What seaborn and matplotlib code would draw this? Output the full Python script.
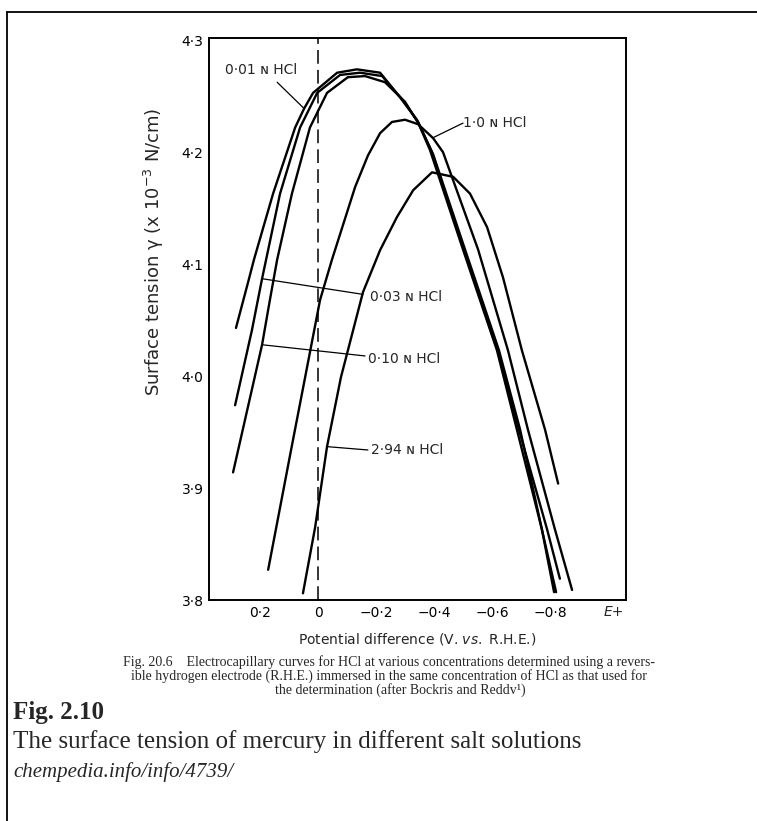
import numpy as np
import pandas as pd
import matplotlib
matplotlib.use("Agg")
import matplotlib.pyplot as plt
import seaborn as sns
from matplotlib.lines import Line2D

# ---------------- data ----------------
series_names = ["0·01 N HCl", "0·03 N HCl", "0·10 N HCl", "1·0 N HCl", "2·94 N HCl"]

e_001 = [0.283, 0.238, 0.221, 0.155, 0.079, 0.048, 0.017, -0.066, -0.134, -0.214,
         -0.283, -0.341, -0.386, -0.500, -0.617, -0.686, -0.772, -0.821]
g_001 = [4.043, 4.087, 4.104, 4.163, 4.222, 4.239, 4.253, 4.271, 4.274, 4.271,
         4.249, 4.229, 4.202, 4.113, 4.023, 3.952, 3.863, 3.807]

e_003 = [0.286, 0.228, 0.193, 0.131, 0.062, 0.003, -0.076, -0.145, -0.221, -0.290,
         -0.345, -0.393, -0.503, -0.621, -0.693, -0.790, -0.834]
g_003 = [3.974, 4.041, 4.087, 4.163, 4.222, 4.253, 4.269, 4.271, 4.268, 4.247,
         4.227, 4.200, 4.113, 4.023, 3.952, 3.863, 3.819]

e_010 = [0.293, 0.193, 0.166, 0.141, 0.090, 0.028, -0.031, -0.103, -0.162, -0.231,
         -0.300, -0.348, -0.397, -0.507, -0.624, -0.697, -0.772, -0.814]
g_010 = [3.914, 4.028, 4.068, 4.104, 4.163, 4.222, 4.253, 4.267, 4.268, 4.2625,
         4.245, 4.225, 4.198, 4.113, 4.023, 3.952, 3.863, 3.807]

e_100 = [0.172, 0.093, -0.007, -0.048, -0.128, -0.172, -0.214, -0.255, -0.300, -0.345,
         -0.397, -0.431, -0.552, -0.655, -0.724, -0.817, -0.876]
g_100 = [3.827, 3.934, 4.068, 4.104, 4.169, 4.197, 4.217, 4.227, 4.229, 4.225,
         4.2125, 4.200, 4.113, 4.023, 3.952, 3.863, 3.809]

e_294 = [0.052, 0.010, -0.031, -0.079, -0.107, -0.155, -0.214, -0.272, -0.328, -0.393,
         -0.466, -0.524, -0.583, -0.638, -0.703, -0.783, -0.828]
g_294 = [3.806, 3.865, 3.937, 3.999, 4.027, 4.075, 4.1125, 4.142, 4.166, 4.182,
         4.178, 4.163, 4.133, 4.088, 4.023, 3.952, 3.904]

# label text anchor (left edge) and leader line ends
label_text = ["0·01 ɴ HCl", "0·03 ɴ HCl", "0·10 ɴ HCl", "1·0 ɴ HCl", "2·94 ɴ HCl"]
label_e = [0.321, -0.179, -0.172, -0.500, -0.183]
label_g = [4.273, 4.071, 4.015, 4.226, 3.934]
leader_e0 = [0.141, 0.193, 0.193, -0.397, -0.031]
leader_g0 = [4.2625, 4.087, 4.028, 4.213, 3.937]
leader_e1 = [0.048, -0.155, -0.162, -0.500, -0.172]
leader_g1 = [4.239, 4.073, 4.018, 4.226, 3.934]

x_ticks = [0.2, 0.0, -0.2, -0.4, -0.6, -0.8]
x_tick_labels = ["0·2", "0", "−0·2", "−0·4", "−0·6", "−0·8"]
y_ticks = [3.8, 3.9, 4.0, 4.1, 4.2, 4.3]
y_tick_labels = ["3·8", "3·9", "4·0", "4·1", "4·2", "4·3"]
y_minor = [3.85, 3.95, 4.05, 4.15, 4.25]

caption_lines = [
    "Fig. 20.6    Electrocapillary curves for HCl at various concentrations determined using a revers-",
    "ible hydrogen electrode (R.H.E.) immersed in the same concentration of HCl as that used for",
    "the determination (after Bockris and Reddv¹)",
]
fig_title = "Fig. 2.10"
fig_sub = "The surface tension of mercury in different salt solutions"
fig_src = "chempedia.info/info/4739/"

# ---------------- build table ----------------
all_e = [e_001, e_003, e_010, e_100, e_294]
all_g = [g_001, g_003, g_010, g_100, g_294]
rows = []
for name, es, gs in zip(series_names, all_e, all_g):
    for i, (e, g) in enumerate(zip(es, gs)):
        rows.append({"series": name, "order": i, "E": e, "gamma": g})
df = pd.DataFrame(rows)

# ---------------- plot ----------------
sns.set_style("white")
plt.rcParams["font.family"] = ["DejaVu Sans"]

W, H = 757, 821
fig = plt.figure(figsize=(W / 100, H / 100), dpi=100)
ax = fig.add_axes([209 / W, 1 - 600 / H, (626 - 209) / W, (600 - 38) / H])

sns.lineplot(data=df, x="E", y="gamma", hue="series", units="series",
             estimator=None, sort=False, palette=["black"] * 5,
             linewidth=1.7, legend=False, ax=ax)

ax.axvline(0.0, color="black", lw=1.1, dashes=(9, 4))

for t, xe, yg, a0, b0, a1, b1 in zip(label_text, label_e, label_g,
                                     leader_e0, leader_g0, leader_e1, leader_g1):
    ax.plot([a0, a1], [b0, b1], color="black", lw=0.9)
    ax.text(xe, yg, t, ha="left", va="center", fontsize=10)

ax.set_xlim(0.376, -1.062)
ax.set_ylim(3.8, 4.302)
ax.set_xticks(x_ticks)
ax.set_xticklabels(x_tick_labels)
ax.set_yticks(y_ticks)
ax.set_yticklabels(y_tick_labels)
ax.set_yticks(y_minor, minor=True)
ax.tick_params(axis="both", which="major", direction="in", length=6, width=1.1,
               labelsize=10, colors="black", pad=4)
ax.tick_params(axis="y", which="minor", direction="in", length=5, width=1.0)
for s in ax.spines.values():
    s.set_color("black")
    s.set_linewidth(1.4)

ax.text(-1.02, 3.8 - 12 / 1120, "E+", ha="center", va="center", fontsize=10, style="italic")

ax.set_xlabel("Potential difference (V. $\\it{vs.}$ R.H.E.)", fontsize=10, labelpad=8)
ax.set_ylabel("Surface tension γ (x 10$^{-3}$ N/cm)", fontsize=13)
ax.yaxis.set_label_coords(-0.103, 0.619)

# caption texts
serif = ["Liberation Serif", "DejaVu Serif"]
cap_y = [662, 676, 690]
cap_x = [389, 389, 400]
for line, yy, xx in zip(caption_lines, cap_y, cap_x):
    fig.text(xx / W, 1 - yy / H, line, ha="center", va="center", fontsize=10, family=serif)
fig.text(13 / W, 1 - 712 / H, fig_title, ha="left", va="center", fontsize=18,
         fontweight="bold", family=serif)
fig.text(13 / W, 1 - 742 / H, fig_sub, ha="left", va="center", fontsize=18, family=serif)
fig.text(13 / W, 1 - 772 / H, fig_src, ha="left", va="center", fontsize=15,
         style="italic", family=serif)

# outer frame of the scanned figure
fig.add_artist(Line2D([7 / W, 7 / W], [0, 1 - 12 / H], color="black", lw=1.3,
                      transform=fig.transFigure))
fig.add_artist(Line2D([7 / W, 1], [1 - 12 / H, 1 - 12 / H], color="black", lw=1.3,
                      transform=fig.transFigure))

fig.savefig("out.png", dpi=100)
